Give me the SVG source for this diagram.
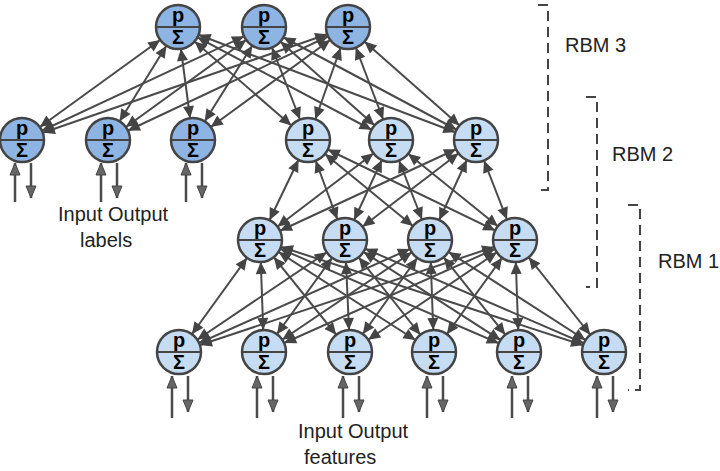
<svg xmlns="http://www.w3.org/2000/svg" width="720" height="471" viewBox="0 0 720 471">
<defs>
<marker id="a" markerUnits="userSpaceOnUse" markerWidth="10" markerHeight="10" refX="0" refY="0" orient="auto-start-reverse" style="overflow:visible"><path d="M-22,0 L-34,-5.5 L-34,5.5 Z" fill="#444"/></marker>
<marker id="b" markerUnits="userSpaceOnUse" markerWidth="10" markerHeight="10" refX="0" refY="0" orient="auto" style="overflow:visible"><path d="M0,0 L-12,-5 L-12,5 Z" fill="#666" stroke="#444" stroke-width="1"/></marker>
<g id="n"><circle r="22" stroke="#444" stroke-width="2.5"/><line x1="-22" y1="0" x2="22" y2="0" stroke="#444" stroke-width="2"/><text y="-5" class="t">p</text><text y="17" class="t">Σ</text></g>
</defs>
<style>
.t{font-family:"Liberation Sans",Arial,sans-serif;font-weight:bold;font-size:20px;text-anchor:middle;fill:#000}
.c line{stroke:#4a4a4a;stroke-width:2;marker-start:url(#a);marker-end:url(#a)}
.io line{stroke:#4a4a4a;stroke-width:2.5;marker-end:url(#b)}
.d{fill:#8db4e2}.l{fill:#c5dcf2}
.lab{font-family:"Liberation Sans",Arial,sans-serif;font-size:20px;fill:#222}
.br{stroke:#444;stroke-width:2;fill:none;stroke-dasharray:10,6}
</style>
<g id="connectors" class="c">
<line x1="178" y1="27" x2="22" y2="140"/><line x1="178" y1="27" x2="108" y2="140"/><line x1="178" y1="27" x2="193" y2="140"/><line x1="178" y1="27" x2="308" y2="140"/><line x1="178" y1="27" x2="391" y2="140"/><line x1="178" y1="27" x2="476" y2="140"/>
<line x1="264" y1="27" x2="22" y2="140"/><line x1="264" y1="27" x2="108" y2="140"/><line x1="264" y1="27" x2="193" y2="140"/><line x1="264" y1="27" x2="308" y2="140"/><line x1="264" y1="27" x2="391" y2="140"/><line x1="264" y1="27" x2="476" y2="140"/>
<line x1="348" y1="27" x2="22" y2="140"/><line x1="348" y1="27" x2="108" y2="140"/><line x1="348" y1="27" x2="193" y2="140"/><line x1="348" y1="27" x2="308" y2="140"/><line x1="348" y1="27" x2="391" y2="140"/><line x1="348" y1="27" x2="476" y2="140"/>
<line x1="308" y1="140" x2="260" y2="240"/><line x1="308" y1="140" x2="345" y2="240"/><line x1="308" y1="140" x2="430" y2="240"/><line x1="308" y1="140" x2="515" y2="240"/>
<line x1="391" y1="140" x2="260" y2="240"/><line x1="391" y1="140" x2="345" y2="240"/><line x1="391" y1="140" x2="430" y2="240"/><line x1="391" y1="140" x2="515" y2="240"/>
<line x1="476" y1="140" x2="260" y2="240"/><line x1="476" y1="140" x2="345" y2="240"/><line x1="476" y1="140" x2="430" y2="240"/><line x1="476" y1="140" x2="515" y2="240"/>
<line x1="260" y1="240" x2="179" y2="352"/><line x1="260" y1="240" x2="264" y2="352"/><line x1="260" y1="240" x2="350" y2="352"/><line x1="260" y1="240" x2="434" y2="352"/><line x1="260" y1="240" x2="519" y2="352"/><line x1="260" y1="240" x2="604" y2="352"/>
<line x1="345" y1="240" x2="179" y2="352"/><line x1="345" y1="240" x2="264" y2="352"/><line x1="345" y1="240" x2="350" y2="352"/><line x1="345" y1="240" x2="434" y2="352"/><line x1="345" y1="240" x2="519" y2="352"/><line x1="345" y1="240" x2="604" y2="352"/>
<line x1="430" y1="240" x2="179" y2="352"/><line x1="430" y1="240" x2="264" y2="352"/><line x1="430" y1="240" x2="350" y2="352"/><line x1="430" y1="240" x2="434" y2="352"/><line x1="430" y1="240" x2="519" y2="352"/><line x1="430" y1="240" x2="604" y2="352"/>
<line x1="515" y1="240" x2="179" y2="352"/><line x1="515" y1="240" x2="264" y2="352"/><line x1="515" y1="240" x2="350" y2="352"/><line x1="515" y1="240" x2="434" y2="352"/><line x1="515" y1="240" x2="519" y2="352"/><line x1="515" y1="240" x2="604" y2="352"/>
</g>
<g id="io" class="io">
<line x1="15" y1="202" x2="15" y2="163"/><line x1="31" y1="163" x2="31" y2="198"/>
<line x1="101" y1="202" x2="101" y2="163"/><line x1="117" y1="163" x2="117" y2="198"/>
<line x1="186" y1="202" x2="186" y2="163"/><line x1="202" y1="163" x2="202" y2="198"/>
<line x1="172" y1="418" x2="172" y2="376"/><line x1="188" y1="376" x2="188" y2="412"/>
<line x1="257" y1="418" x2="257" y2="376"/><line x1="273" y1="376" x2="273" y2="412"/>
<line x1="343" y1="418" x2="343" y2="376"/><line x1="359" y1="376" x2="359" y2="412"/>
<line x1="427" y1="418" x2="427" y2="376"/><line x1="443" y1="376" x2="443" y2="412"/>
<line x1="512" y1="418" x2="512" y2="376"/><line x1="528" y1="376" x2="528" y2="412"/>
<line x1="597" y1="418" x2="597" y2="376"/><line x1="613" y1="376" x2="613" y2="412"/>
</g>
<g id="top"><use href="#n" x="178" y="27" class="d"/><use href="#n" x="264" y="27" class="d"/><use href="#n" x="348" y="27" class="d"/></g>
<g id="labels-nodes"><use href="#n" x="22" y="140" class="d"/><use href="#n" x="108" y="140" class="d"/><use href="#n" x="193" y="140" class="d"/></g>
<g id="hidden2"><use href="#n" x="308" y="140" class="l"/><use href="#n" x="391" y="140" class="l"/><use href="#n" x="476" y="140" class="l"/></g>
<g id="hidden1"><use href="#n" x="260" y="240" class="l"/><use href="#n" x="345" y="240" class="l"/><use href="#n" x="430" y="240" class="l"/><use href="#n" x="515" y="240" class="l"/></g>
<g id="features"><use href="#n" x="179" y="352" class="l"/><use href="#n" x="264" y="352" class="l"/><use href="#n" x="350" y="352" class="l"/><use href="#n" x="434" y="352" class="l"/><use href="#n" x="519" y="352" class="l"/><use href="#n" x="604" y="352" class="l"/></g>
<g id="brackets">
<path class="br" d="M538,5 H548 V190 H538"/><text class="lab" x="565" y="52">RBM 3</text>
<path class="br" d="M586,97 H597 V287 H586"/><text class="lab" x="612" y="161">RBM 2</text>
<path class="br" d="M628,205 H640 V390 H628"/><text class="lab" x="658" y="268">RBM 1</text>
</g>
<g id="texts">
<text class="lab" x="58" y="221">Input Output</text><text class="lab" x="80" y="247">labels</text>
<text class="lab" x="298" y="438">Input Output</text><text class="lab" x="304" y="464">features</text>
</g>
</svg>
